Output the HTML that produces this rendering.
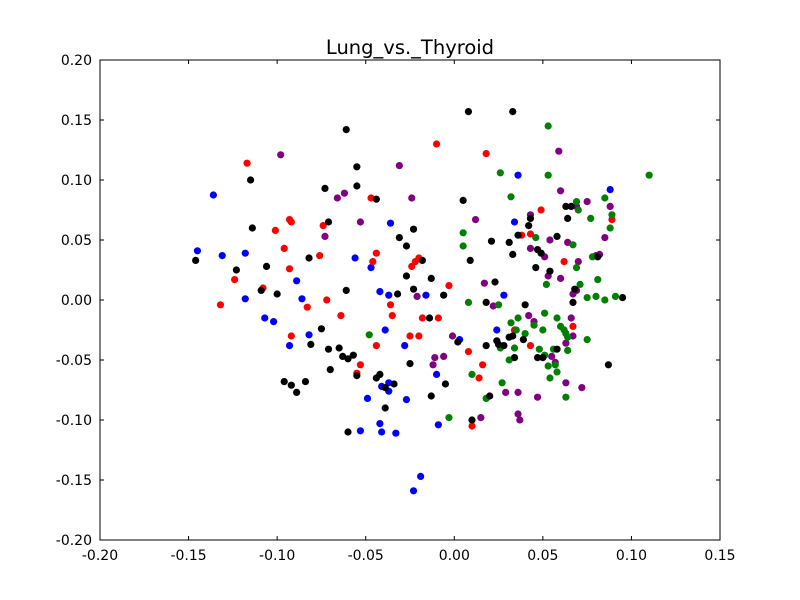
<!DOCTYPE html>
<html><head><meta charset="utf-8"><style>
html,body{margin:0;padding:0;background:#fff;}
svg{display:block;font-family:"DejaVu Sans","Liberation Sans",sans-serif;}
</style></head><body>
<svg id="chart" width="800" height="600">
<rect width="800" height="600" fill="#fff"/>
<text x="410" y="54" text-anchor="middle" font-size="19.5">Lung_vs._Thyroid</text>
<g id="marks"></g>
<rect x="100" y="60" width="620" height="480" fill="none" stroke="#000" stroke-width="1"/>
<g id="axes"></g>
</svg>
<script>
const xTicks=[-0.20,-0.15,-0.10,-0.05,0.00,0.05,0.10,0.15];
const yTicks=[-0.20,-0.15,-0.10,-0.05,0.00,0.05,0.10,0.15,0.20];
const seriesColors=["#0000ff","#ff0000","#800080","#008000","#000000"];
const blueX=[-0.136,-0.145,-0.131,-0.118,-0.118,-0.107,-0.102,-0.089,-0.086,-0.082,-0.093,-0.056,-0.047,-0.036,-0.042,-0.037,-0.039,-0.028,-0.037,-0.041,-0.037,-0.049,-0.042,-0.041,-0.053,-0.033,-0.027,-0.019,-0.023,-0.016,-0.010,-0.009,0.003,0.024,0.036,0.034,0.028,0.088];
const blueY=[0.0875,0.041,0.037,0.039,0.001,-0.015,-0.018,0.016,0.001,-0.029,-0.038,0.035,0.027,0.064,0.007,0.004,-0.025,-0.038,-0.069,-0.072,-0.076,-0.082,-0.103,-0.110,-0.109,-0.111,-0.083,-0.147,-0.159,0.004,-0.062,-0.104,-0.033,-0.025,0.104,0.065,0.004,0.092];
const redX=[-0.117,-0.101,-0.093,-0.092,-0.096,-0.124,-0.132,-0.108,-0.093,-0.092,-0.083,-0.076,-0.074,-0.072,-0.064,-0.047,-0.044,-0.046,-0.036,-0.035,-0.053,-0.055,-0.044,-0.024,-0.022,-0.020,-0.025,-0.020,-0.018,-0.010,-0.009,-0.003,0.008,0.010,0.014,0.016,0.018,0.034,0.038,0.043,0.043,0.049,0.062,0.067,0.089];
const redY=[0.114,0.058,0.067,0.065,0.043,0.017,-0.004,0.010,0.026,-0.030,-0.006,0.037,0.062,0.000,-0.013,0.085,0.039,0.032,-0.004,-0.013,-0.054,-0.061,-0.038,0.028,0.032,0.035,-0.030,-0.030,-0.015,0.130,-0.015,0.012,-0.043,-0.105,-0.065,-0.054,0.122,-0.025,0.054,-0.038,0.055,0.075,0.032,-0.022,0.067];
const purpleX=[-0.098,-0.073,-0.066,-0.062,-0.053,-0.031,-0.024,-0.021,-0.006,-0.011,-0.001,-0.012,0.012,0.017,0.015,0.022,0.029,0.036,0.036,0.037,0.042,0.043,0.043,0.045,0.047,0.051,0.053,0.054,0.055,0.057,0.059,0.060,0.060,0.063,0.063,0.064,0.066,0.067,0.069,0.070,0.072,0.067,0.075,0.080,0.082,0.085,0.088,0.069];
const purpleY=[0.121,0.053,0.085,0.089,0.065,0.112,0.085,0.003,-0.047,-0.048,-0.030,-0.054,0.067,0.014,-0.098,-0.005,-0.077,-0.077,-0.095,-0.100,-0.013,0.071,0.043,-0.018,-0.081,0.036,0.020,0.050,-0.047,-0.052,0.124,0.091,0.018,-0.036,-0.069,0.048,-0.015,-0.030,0.078,0.032,-0.073,0.005,0.082,0.037,0.038,0.052,0.078,0.008];
const greenX=[0.053,0.053,0.110,0.026,0.032,0.046,0.005,0.005,0.008,-0.048,0.025,0.026,0.032,0.034,0.031,0.027,0.010,-0.003,0.018,0.035,0.036,0.040,0.045,0.050,0.048,0.051,0.053,0.054,0.057,0.058,0.051,0.052,0.056,0.058,0.060,0.062,0.063,0.064,0.064,0.063,0.067,0.069,0.071,0.069,0.070,0.077,0.081,0.075,0.080,0.078,0.085,0.091,0.088,0.089,0.085,0.075];
const greenY=[0.145,0.104,0.104,0.106,0.086,0.052,0.056,0.045,-0.002,-0.029,-0.004,-0.040,-0.019,-0.040,-0.050,-0.069,-0.062,-0.098,-0.082,-0.025,-0.015,-0.028,-0.021,-0.025,-0.041,-0.046,-0.055,-0.065,-0.054,-0.060,-0.011,0.013,-0.041,-0.015,-0.022,-0.025,-0.028,-0.042,-0.031,-0.081,0.046,0.027,0.013,0.082,0.075,0.068,0.017,0.002,0.003,0.036,0.000,0.003,0.060,0.071,0.085,-0.033];
const blackX=[0.008,0.033,-0.061,-0.055,-0.115,-0.055,-0.044,-0.073,-0.071,-0.114,-0.146,-0.123,-0.106,-0.109,-0.100,-0.082,-0.061,-0.075,-0.081,-0.071,-0.065,-0.063,-0.060,-0.057,-0.070,-0.055,-0.096,-0.092,-0.089,-0.084,-0.060,-0.044,-0.042,-0.039,-0.034,-0.039,-0.032,-0.031,-0.027,-0.023,-0.027,-0.023,-0.018,-0.013,-0.014,-0.025,-0.005,-0.013,0.005,0.009,-0.006,0.002,0.018,0.018,0.020,0.010,0.021,0.023,0.024,0.025,0.028,0.033,0.031,0.036,0.043,0.042,0.031,0.034,0.033,0.039,0.046,0.047,0.049,0.047,0.050,0.054,0.058,0.058,0.063,0.066,0.064,0.068,0.067,0.081,0.087,0.095,0.040];
const blackY=[0.157,0.157,0.142,0.111,0.100,0.095,0.084,0.093,0.065,0.060,0.033,0.025,0.028,0.008,0.005,0.035,0.008,-0.024,-0.037,-0.041,-0.040,-0.047,-0.049,-0.046,-0.058,-0.063,-0.068,-0.071,-0.077,-0.068,-0.110,-0.065,-0.062,-0.073,-0.070,-0.090,0.005,0.052,0.045,0.059,0.020,0.009,0.033,0.018,-0.015,-0.053,-0.070,-0.080,0.083,0.033,0.004,-0.035,-0.002,-0.038,-0.080,-0.100,0.049,0.015,-0.034,-0.037,-0.038,0.038,0.048,0.054,0.068,0.062,-0.031,-0.048,-0.030,-0.033,0.027,0.042,0.039,-0.048,-0.048,0.024,0.053,-0.041,0.078,0.078,0.068,0.009,-0.002,0.036,-0.054,0.002,-0.004];
const seriesX=[blueX,redX,purpleX,greenX,blackX];
const seriesY=[blueY,redY,purpleY,greenY,blackY];
const seriesNames=["blue","red","purple","green","black"];

const X0=100,X1=720,Y0=540,Y1=60;
const xMin=-0.20,xMax=0.15,yMin=-0.20,yMax=0.20;
function sx(v){return X0+(v-xMin)/(xMax-xMin)*(X1-X0);}
function sy(v){return Y0-(v-yMin)/(yMax-yMin)*(Y0-Y1);}
const NS="http://www.w3.org/2000/svg";
const marks=document.getElementById('marks');
for(let s=0;s<seriesX.length;s++){
  const g=document.createElementNS(NS,'g');
  
  
  for(let i=0;i<seriesX[s].length;i++){
    const c=document.createElementNS(NS,'circle');
    c.setAttribute('cx',sx(seriesX[s][i]));
    c.setAttribute('cy',sy(seriesY[s][i]));
    c.setAttribute('r',3.6);
    c.setAttribute('fill',seriesColors[s]);
    
    
    g.appendChild(c);
  }
  marks.appendChild(g);
}
const axes=document.getElementById('axes');
function fmt(v){return (Math.abs(v)<1e-9?0:v).toFixed(2);}
xTicks.forEach(v=>{
  const x=sx(v);
  [[Y0,Y0-4],[Y1,Y1+4]].forEach(p=>{
    const l=document.createElementNS(NS,'line');
    l.setAttribute('x1',x);l.setAttribute('x2',x);l.setAttribute('y1',p[0]);l.setAttribute('y2',p[1]);
    l.setAttribute('stroke','#000');
    
    
    axes.appendChild(l);
  });
  const t=document.createElementNS(NS,'text');
  t.setAttribute('x',x);t.setAttribute('y',Y0+20);t.setAttribute('text-anchor','middle');t.setAttribute('font-size','14');
  t.textContent=fmt(v);
  
  
  axes.appendChild(t);
});
yTicks.forEach(v=>{
  const y=sy(v);
  [[X0,X0+4],[X1,X1-4]].forEach(p=>{
    const l=document.createElementNS(NS,'line');
    l.setAttribute('x1',p[0]);l.setAttribute('x2',p[1]);l.setAttribute('y1',y);l.setAttribute('y2',y);
    l.setAttribute('stroke','#000');
    
    
    axes.appendChild(l);
  });
  const t=document.createElementNS(NS,'text');
  t.setAttribute('x',X0-8);t.setAttribute('y',y+5);t.setAttribute('text-anchor','end');t.setAttribute('font-size','14');
  t.textContent=fmt(v);
  
  
  axes.appendChild(t);
});
</script>
</body></html>
